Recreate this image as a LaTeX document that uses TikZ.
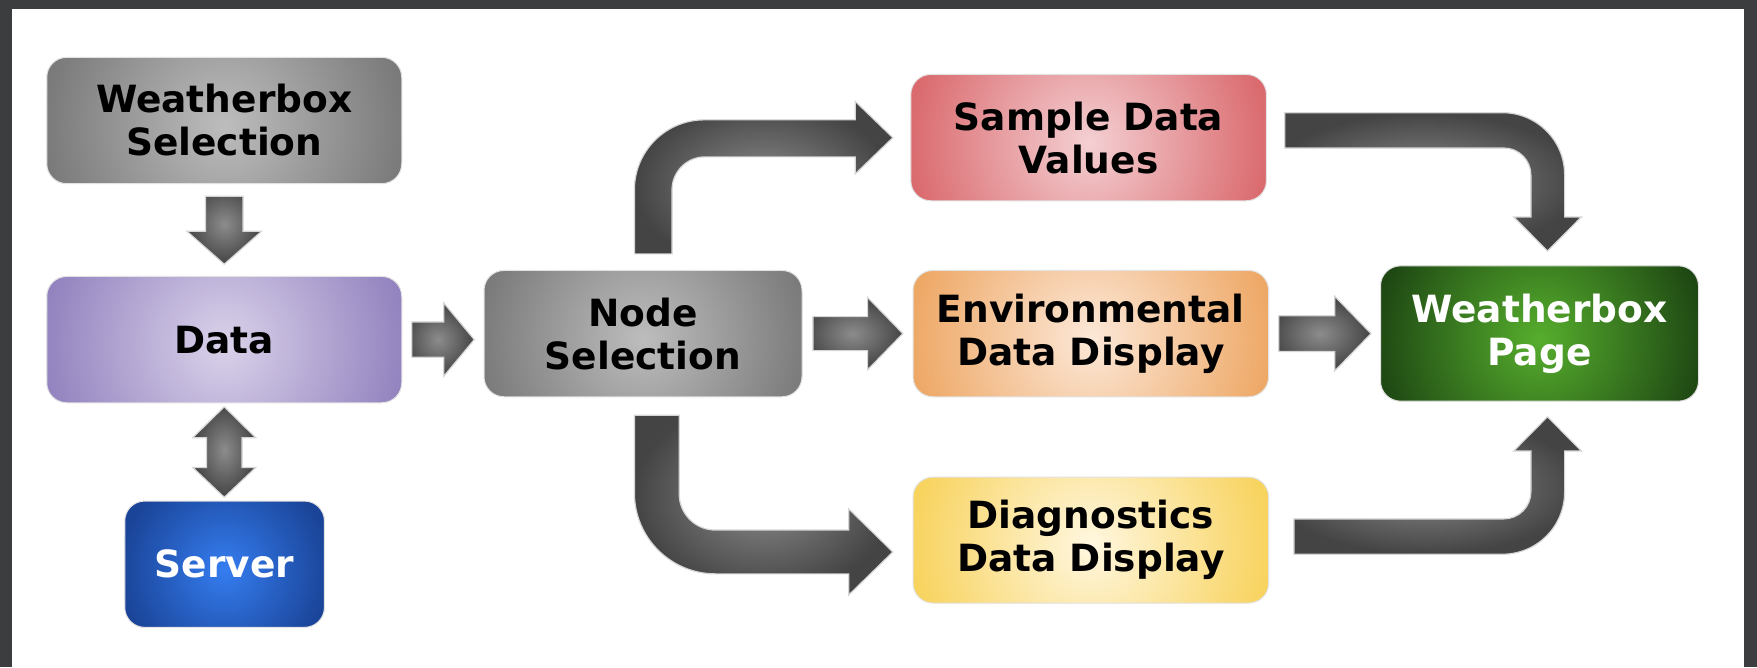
\documentclass[tikz,border=0pt]{standalone}
\usepackage{fontspec}
\setmainfont{DejaVu Sans}
\usetikzlibrary{calc}
\definecolor{framecol}{HTML}{3C3D3F}
\definecolor{boxline}{HTML}{E2E2E2}
\definecolor{grayin}{HTML}{BDBDBD}
\definecolor{grayout}{HTML}{7A7A7A}
\definecolor{datain}{HTML}{DAD2EA}
\definecolor{dataout}{HTML}{9383BF}
\definecolor{servin}{HTML}{357DF0}
\definecolor{servout}{HTML}{1A4498}
\definecolor{sampin}{HTML}{F4D0D3}
\definecolor{sampout}{HTML}{DA6A6E}
\definecolor{envin}{HTML}{FCE8D8}
\definecolor{envout}{HTML}{EEA866}
\definecolor{diagin}{HTML}{FFF7E0}
\definecolor{diagout}{HTML}{F8D35E}
\definecolor{pagein}{HTML}{56AE2D}
\definecolor{pageout}{HTML}{1E4713}
\definecolor{arrin}{HTML}{8C8C8C}
\definecolor{arrout}{HTML}{444444}
\definecolor{arrline}{HTML}{D6D6D6}
\tikzset{
  box/.style={rounded corners=20pt, draw=boxline, line width=1pt, align=center,
    font=\bfseries\fontsize{37.5}{43}\selectfont, text=black, inner sep=0pt,
    minimum width=355pt, minimum height=126.3pt},
  circshade/.style n args={3}{fill=#2, path picture={
    \shade[inner color=#1, outer color=#2] ([yshift=-5pt]path picture bounding box.center) circle (#3);}},
  gbox/.style={box, circshade={grayin}{grayout}{#1}},
  databox/.style={box, circshade={datain}{dataout}{180pt}},
  servbox/.style={box, circshade={servin}{servout}{105pt}, text=white},
  sampbox/.style={box, circshade={sampin}{sampout}{180pt}},
  envbox/.style={box, circshade={envin}{envout}{180pt}},
  diagbox/.style={box, circshade={diagin}{diagout}{180pt}},
  pagebox/.style={box, circshade={pagein}{pageout}{165pt}, text=white},
  blockarrow/.style={inner color=arrin, outer color=arrout, draw=arrline, line width=1.2pt, line join=miter}
}
\begin{document}
\begin{tikzpicture}[x=1pt,y=-1pt]
\useasboundingbox (0,0) rectangle (1757,667);
\fill[framecol] (0,0) rectangle (1757,667);
\fill[white] (11.5,8.5) rectangle (1743.5,667);

% nodes
\node[gbox=180pt] (wsel) at (224.25,120.5) {Weatherbox\\Selection};
\node[databox] (data) at (224.25,339.6) {Data};
\node[servbox, minimum width=199.7pt] (server) at (224.6,564.2) {Server};
\node[gbox=165pt, minimum width=318pt] (nodesel) at (643,333.6) {Node\\Selection};
\node[sampbox, minimum width=355.6pt] (sample) at (1088.6,137.6) {Sample Data\\Values};
\node[envbox, minimum width=355.6pt] (env) at (1090.8,333.6) {Environmental\\Data Display};
\node[diagbox, minimum width=355.6pt, minimum height=125.9pt] (diag) at (1090.8,540.1) {Diagnostics\\Data Display};
\node[pagebox, minimum width=318pt, minimum height=135.3pt] (page) at (1539.5,333.5) {Weatherbox\\Page};

% straight arrows
\path[blockarrow] (wsel.south) ++(-18.75,12) -- ++(37.5,0) -- ++(0,35) -- ++(18.7,0)
  -- ++(-37.45,33) -- ++(-37.45,-33) -- ++(18.7,0) -- cycle;
\path[blockarrow] (data.south) ++(0,3.5) -- ++(31.5,31) -- ++(-13.75,0) -- ++(0,29.7)
  -- ++(13.75,0) -- ++(-31.5,29.8) -- ++(-31.5,-29.8) -- ++(13.75,0) -- ++(0,-29.7)
  -- ++(-13.75,0) -- cycle;
\path[blockarrow] (data.east) ++(9.6,-17.65) -- ++(31.8,0) -- ++(0,-19.1) -- ++(30.6,36.75)
  -- ++(-30.6,36.75) -- ++(0,-19.1) -- ++(-31.8,0) -- cycle;
\path[blockarrow] (nodesel.east) ++(10.4,-17) -- ++(54.7,0) -- ++(0,-19.15) -- ++(35.2,36.15)
  -- ++(-35.2,36.15) -- ++(0,-19.15) -- ++(-54.7,0) -- cycle;
\path[blockarrow] (env.east) ++(9.6,-17.85) -- ++(56.1,0) -- ++(0,-19.35) -- ++(36.2,37.2)
  -- ++(-36.2,37.2) -- ++(0,-19.35) -- ++(-56.1,0) -- cycle;

% curved arrows
\path[blockarrow] (nodesel.north) ++(-8.6,-16.1) -- ++(0,-64)
  .. controls +(0,-38.66) and +(-38.66,0) .. ++(70,-70)
  -- ++(150.9,0) -- ++(0,-18.4) -- ++(37.5,36.2) -- ++(-37.5,36.2) -- ++(0,-17)
  -- ++(-150.3,0)
  .. controls +(-18.23,0) and +(0,-18.23) .. ++(-33,33)
  -- ++(0,64) -- cycle;
\path[blockarrow] (nodesel.south) ++(-8.6,17.9) -- ++(44.8,0) -- ++(0,78.9)
  .. controls +(0,19.88) and +(-19.88,0) .. ++(36,36)
  -- ++(133.6,0) -- ++(0,-21.1) -- ++(44,43) -- ++(-44,43) -- ++(0,-21.1)
  -- ++(-133.4,0)
  .. controls +(-44.7,0) and +(0,44.7) .. ++(-81,-81)
  -- cycle;
\path[blockarrow] (sample.east) ++(17.8,-24.9) -- ++(217.9,0)
  .. controls +(34.24,0) and +(0,-34.24) .. ++(62,62)
  -- ++(0,42.3) -- ++(16.7,0) -- ++(-33.8,34) -- ++(-33.7,-34) -- ++(17.1,0)
  -- ++(0,-42)
  .. controls +(0,-14.9) and +(14.9,0) .. ++(-27,-27)
  -- ++(-219.2,0) -- cycle;
\path[blockarrow] (diag.east) ++(24.8,14.1) -- ++(208.7,0)
  .. controls +(34.24,0) and +(0,34.24) .. ++(62,-62)
  -- ++(0,-41.3) -- ++(16.7,0) -- ++(-33.8,-34.1) -- ++(-33.7,34.1) -- ++(17.1,0)
  -- ++(0,41)
  .. controls +(0,14.9) and +(14.9,0) .. ++(-27,27)
  -- ++(-210,0) -- cycle;
\end{tikzpicture}
\end{document}
